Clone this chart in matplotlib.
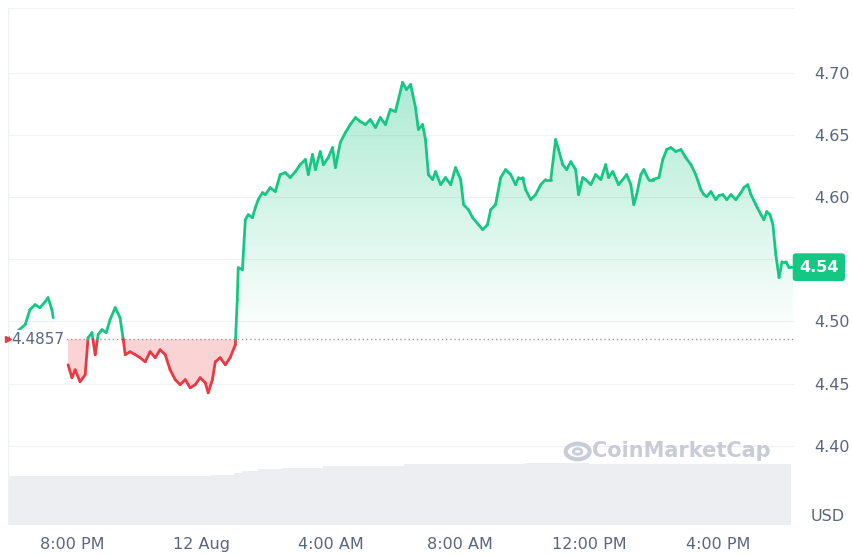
import numpy as np
import matplotlib
matplotlib.use("Agg")
import matplotlib.pyplot as plt
from matplotlib.patches import Polygon, Circle
from matplotlib.colors import LinearSegmentedColormap
import matplotlib.dates as mdates
import datetime as dt

# (hours after 11 Aug 18:00, price)
series = [
(0.00,4.4857),(0.53,4.4974),(0.68,4.5095),(0.84,4.5135),(0.99,4.5111),(1.15,4.5159),(1.24,4.5191),(1.36,4.5095),(1.40,4.5030),(1.43,np.nan),
(1.86,4.4652),(1.98,4.4548),(2.08,4.4612),(2.23,4.4516),(2.39,4.4572),(2.48,4.4869),(2.60,4.4910),(2.70,4.4733),(2.79,4.4894),(2.91,4.4934),
(3.04,4.4910),(3.16,4.5014),(3.32,4.5111),(3.47,4.5030),(3.57,4.4853),(3.63,4.4733),(3.78,4.4757),(3.94,4.4733),(4.09,4.4709),(4.25,4.4676),
(4.40,4.4757),(4.56,4.4709),(4.71,4.4773),(4.87,4.4733),(5.02,4.4612),(5.18,4.4532),(5.33,4.4492),(5.49,4.4532),(5.64,4.4467),(5.80,4.4492),
(5.95,4.4548),(6.11,4.4508),(6.20,4.4427),(6.33,4.4532),(6.42,4.4676),(6.57,4.4709),(6.73,4.4652),(6.88,4.4709),(7.04,4.4813),(7.10,4.5175),
(7.13,4.5432),(7.26,4.5416),(7.35,4.5818),(7.44,4.5858),(7.57,4.5834),(7.66,4.5915),(7.75,4.5979),(7.88,4.6035),(7.97,4.6019),(8.12,4.6075),
(8.28,4.6043),(8.43,4.6180),(8.59,4.6196),(8.74,4.6156),(8.90,4.6204),(9.05,4.6260),(9.21,4.6301),(9.30,4.6180),(9.43,4.6341),(9.52,4.6220),
(9.67,4.6365),(9.77,4.6260),(9.92,4.6317),(10.05,4.6397),(10.14,4.6236),(10.29,4.6437),(10.45,4.6518),(10.60,4.6582),(10.76,4.6638),(10.91,4.6606),
(11.07,4.6582),(11.22,4.6622),(11.38,4.6558),(11.53,4.6638),(11.69,4.6582),(11.84,4.6703),(12.00,4.6686),(12.09,4.6783),(12.22,4.6920),(12.34,4.6863),
(12.47,4.6904),(12.62,4.6719),(12.71,4.6542),(12.84,4.6582),(12.93,4.6461),(13.02,4.6180),(13.15,4.6140),(13.24,4.6204),(13.40,4.6099),(13.55,4.6156),
(13.71,4.6099),(13.86,4.6236),(14.02,4.6140),(14.11,4.5939),(14.26,4.5898),(14.39,4.5834),(14.57,4.5778),(14.70,4.5738),(14.85,4.5778),(14.95,4.5898),
(15.10,4.5939),(15.26,4.6156),(15.41,4.6220),(15.57,4.6180),(15.72,4.6099),(15.81,4.6156),(15.94,4.6156),(16.03,4.6059),(16.19,4.5979),(16.34,4.6019),
(16.50,4.6099),(16.65,4.6140),(16.81,4.6140),(16.96,4.6461),(17.05,4.6381),(17.18,4.6260),(17.30,4.6220),(17.43,4.6284),(17.58,4.6220),(17.67,4.6019),
(17.80,4.6156),(17.89,4.6140),(18.05,4.6099),(18.20,4.6180),(18.36,4.6140),(18.51,4.6260),(18.60,4.6156),(18.73,4.6204),(18.91,4.6099),(19.04,4.6140),
(19.16,4.6180),(19.29,4.6099),(19.38,4.5939),(19.47,4.6019),(19.60,4.6180),(19.69,4.6220),(19.84,4.6140),(19.97,4.6140),(20.16,4.6156),(20.28,4.6301),
(20.40,4.6381),(20.53,4.6397),(20.68,4.6365),(20.84,4.6381),(20.99,4.6317),(21.15,4.6260),(21.30,4.6180),(21.46,4.6059),(21.55,4.6019),(21.64,4.6003),
(21.77,4.6043),(21.92,4.5979),(22.02,4.6011),(22.14,4.6019),(22.26,4.5979),(22.39,4.6019),(22.54,4.5979),(22.70,4.6035),(22.79,4.6075),(22.91,4.6099),
(23.01,4.6019),(23.16,4.5939),(23.32,4.5858),(23.41,4.5818),(23.50,4.5882),(23.60,4.5858),(23.69,4.5778),(23.78,4.5537),(23.88,4.5352),(23.97,4.5480),
(24.09,4.5480),(24.19,4.5432),(24.31,4.5436),
]
hours = [s[0] for s in series]
prices = [s[1] for s in series]
volume = [28,28,28,28,28,28,28,28,28,28,28,28,28,28,28,28,28,28,28,28,28,28,28,28,28,29,29,29,30,31,31,32,32,32,33,33,33,33,33,34,34,34,34,34,34,34,34,34,34,35,35,35,35,35,35,35,35,35,35,35,35,35,35,35,36,36,36,36,36,36,36,36,35,35,35,35,35,35,35,35,35,35,35,35,35,35,35,35,35,35,35,35,35,35,35,35,35]
baseline = 4.4857
yticks = [4.40, 4.45, 4.50, 4.55, 4.60, 4.65, 4.70]

GREEN = "#16c784"; RED = "#ea3943"; GREY = "#58667e"
t0 = dt.datetime(2024, 8, 11, 18, 0)
times = np.array([mdates.date2num(t0 + dt.timedelta(hours=h)) for h in hours])
vt = np.array([mdates.date2num(t0 + dt.timedelta(hours=0.25 * i)) for i in range(len(volume))])
p = np.array(prices, dtype=float)

fig = plt.figure(figsize=(8.52, 5.56), dpi=100)
ax = fig.add_axes([0.0094, 0.056, 0.924, 0.930])
ymin, ymax = 4.3366, 4.752
xmin = times[0]; xmax = times[-1] + 0.003
ax.set_xlim(xmin, xmax); ax.set_ylim(ymin, ymax)

axv = ax.twinx()
axv.set_ylim(0, 36 * 8.3)
axv.bar(vt, volume, width=0.25/24, align="edge", color="#eceef1", zorder=0)
axv.set_yticks([])
for s in axv.spines.values(): s.set_visible(False)
ax.set_zorder(axv.get_zorder() + 1); ax.patch.set_visible(False)

for y in yticks:
    ax.axhline(y, color="#eff2f5", lw=0.8, zorder=0)
ax.axhline(ymax, color="#eff2f5", lw=0.8)

ok = ~np.isnan(p)
grad = np.linspace(0, 1, 256).reshape(-1, 1)
cmap = LinearSegmentedColormap.from_list("g", [(0.086, 0.78, 0.52, 0.0), (0.086, 0.78, 0.52, 0.35)])
im = ax.imshow(grad, aspect="auto", cmap=cmap, origin="lower",
               extent=[xmin, xmax, baseline, 4.69], zorder=1)
pu = np.where(ok, np.maximum(p, baseline), baseline)
verts = [(times[0], baseline)] + list(zip(times, pu)) + [(times[-1], baseline)]
poly = Polygon(verts, closed=True, transform=ax.transData, facecolor="none", edgecolor="none")
ax.add_patch(poly); im.set_clip_path(poly)

gap = int(np.where(~ok)[0][0])
for seg in (slice(0, gap), slice(gap + 1, len(p))):
    ts, ps = times[seg], p[seg]
    ax.fill_between(ts, ps, baseline, where=ps < baseline, interpolate=True,
                    color=RED, alpha=0.22, lw=0, zorder=1)

for i in range(len(p) - 1):
    a, b = p[i], p[i+1]
    if np.isnan(a) or np.isnan(b): continue
    xa, xb = times[i], times[i+1]
    if (a - baseline) * (b - baseline) < 0:
        xc = xa + (baseline - a) / (b - a) * (xb - xa)
        ax.plot([xa, xc], [a, baseline], color=GREEN if a > baseline else RED, lw=2, solid_capstyle="round", zorder=3)
        ax.plot([xc, xb], [baseline, b], color=GREEN if b > baseline else RED, lw=2, solid_capstyle="round", zorder=3)
    else:
        c = GREEN if (a + b) / 2 >= baseline else RED
        ax.plot([xa, xb], [a, b], color=c, lw=2, solid_capstyle="round", zorder=3)

ax.axhline(baseline, color="#999999", lw=1, ls=(0, (1, 2)), zorder=2)
ax.text(times[0] + 0.004, baseline, "4.4857", color=GREY, fontsize=11, va="center", ha="left",
        zorder=5, bbox=dict(facecolor="white", edgecolor="none", pad=1))
ax.plot([xmin], [baseline], marker=">", color=RED, ms=4, clip_on=False, zorder=6)

last = p[-1]
for s in ax.spines.values(): s.set_visible(False)
ax.axvline(xmin, color="#eff2f5", lw=1)
ax.yaxis.tick_right()
ax.set_yticks(yticks)
ax.set_yticklabels(["" if abs(y - last) < 0.012 else f"{y:.2f}" for y in yticks], fontsize=11.5, color=GREY)
ax.tick_params(axis="y", length=0, pad=14)
xt = [t0 + dt.timedelta(hours=h) for h in [2, 6, 10, 14, 18, 22]]
ax.set_xticks([mdates.date2num(x) for x in xt])
ax.set_xticklabels(["8:00 PM", "12 Aug", "4:00 AM", "8:00 AM", "12:00 PM", "4:00 PM"], fontsize=11.5, color=GREY)
ax.tick_params(axis="x", length=0, pad=9)
fig.text(0.972, 0.071, "USD", fontsize=11.5, color=GREY, ha="center", va="center")

ax.annotate(f"{last:.2f}", xy=(1.0, last), xycoords=("axes fraction", "data"),
            xytext=(17, 0), textcoords="offset points", ha="center", va="center",
            fontsize=11.5, color="white", fontweight="bold", zorder=10,
            bbox=dict(boxstyle="round,pad=0.4,rounding_size=0.2", facecolor=GREEN, edgecolor="none"))

fig.text(0.8, 0.188, "CoinMarketCap", fontsize=15, color="#c7ccd6", ha="center", va="center", fontweight="bold")
fig.patches.append(Circle((0.678, 0.188), 0.014, transform=fig.transFigure, fill=False, edgecolor="#c7ccd6", lw=3))
fig.patches.append(Circle((0.678, 0.188), 0.005, transform=fig.transFigure, fill=False, edgecolor="#c7ccd6", lw=2))

fig.savefig("out.png", dpi=100)
